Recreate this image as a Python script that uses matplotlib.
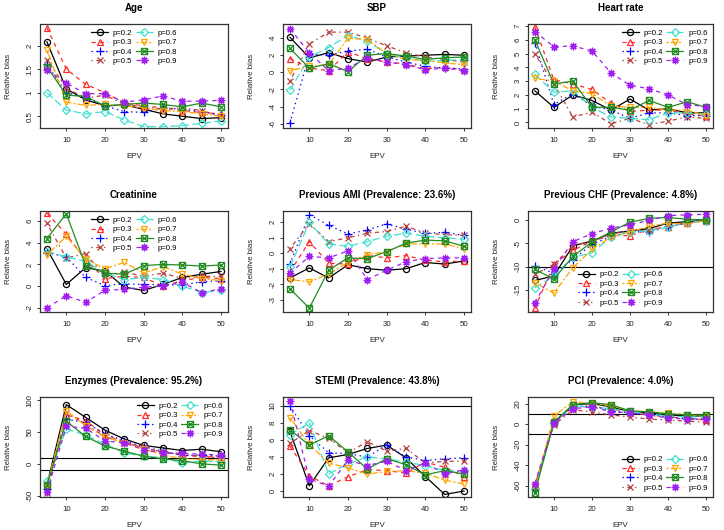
import matplotlib
matplotlib.use("Agg")
import matplotlib.pyplot as plt
from matplotlib.path import Path

plt.rcParams['font.family'] = ['Liberation Sans', 'DejaVu Sans']
plt.rcParams['axes.unicode_minus'] = False
plt.rcParams['lines.scale_dashes'] = False

epv = [5, 10, 15, 20, 25, 30, 35, 40, 45, 50]
p_labels = ['p=0.2', 'p=0.3', 'p=0.4', 'p=0.5', 'p=0.6', 'p=0.7', 'p=0.8', 'p=0.9']

# rows: p=0.2 ... p=0.9
age = [
    [2.08, 1.08, 0.85, 0.72, 0.74, 0.65, 0.55, 0.50, 0.45, 0.47],
    [2.38, 1.50, 1.18, 1.00, 0.78, 0.72, 0.68, 0.62, 0.58, 0.55],
    [1.60, 1.00, 0.90, 0.72, 0.60, 0.58, 0.68, 0.65, 0.60, 0.52],
    [1.70, 1.10, 0.88, 0.95, 0.75, 0.70, 0.65, 0.68, 0.62, 0.50],
    [1.00, 0.63, 0.55, 0.60, 0.42, 0.28, 0.28, 0.30, 0.35, 0.40],
    [1.90, 0.80, 0.73, 0.75, 0.72, 0.68, 0.62, 0.60, 0.55, 0.50],
    [1.55, 0.95, 0.92, 0.72, 0.75, 0.78, 0.75, 0.70, 0.78, 0.70],
    [1.48, 1.20, 0.98, 0.98, 0.80, 0.85, 0.93, 0.82, 0.82, 0.84],
]
sbp = [
    [4.1, 1.7, 2.3, 1.6, 1.2, 1.8, 1.9, 2.0, 2.1, 2.0],
    [1.6, 0.5, 0.2, 2.4, 1.6, 1.2, 1.0, 0.4, 0.6, 0.3],
    [-5.9, 2.1, 2.0, 2.5, 2.7, 1.8, 1.2, 0.7, 0.5, 0.4],
    [-1.0, 3.3, 4.7, 4.7, 4.0, 3.1, 2.3, 1.8, 1.5, 1.2],
    [-2.1, 1.8, 2.9, 4.3, 3.7, 2.1, 1.7, 1.3, 1.4, 1.5],
    [0.2, 0.7, 0.9, 4.0, 3.8, 2.2, 1.5, 1.4, 1.1, 0.9],
    [2.8, 0.5, 1.0, 0.1, 2.0, 2.2, 1.9, 1.5, 1.7, 1.8],
    [5.1, 2.3, 0.2, 0.5, 1.7, 1.2, 0.9, 0.3, 0.5, 0.2],
]
heart_rate = [
    [2.3, 1.1, 2.0, 1.6, 0.9, 1.7, 0.9, 1.0, 0.7, 0.7],
    [6.95, 3.1, 2.8, 2.4, 1.4, 0.8, 0.9, 0.9, 0.6, 0.5],
    [5.8, 1.3, 2.1, 1.2, 0.9, 0.3, 0.7, 0.7, 0.5, 0.5],
    [5.0, 2.8, 0.4, 0.75, -0.1, 0.3, -0.15, 0.1, 0.4, 0.3],
    [3.5, 2.2, 2.3, 1.1, 0.4, 0.3, 0.2, 0.7, 0.7, 0.6],
    [3.2, 3.0, 2.3, 2.1, 1.2, 1.1, 1.1, 0.9, 0.9, 0.5],
    [6.0, 2.8, 3.0, 1.1, 1.1, 0.9, 1.6, 1.1, 1.5, 1.1],
    [6.6, 5.5, 5.55, 5.2, 3.6, 2.7, 2.45, 2.0, 1.3, 1.15],
]
creatinine = [
    [3.45, 0.15, 1.7, 1.4, -0.1, -0.4, 0.15, 0.8, 1.1, 1.35],
    [6.75, 4.8, 2.4, 0.7, 0.9, 0.8, 0.0, 0.5, 0.8, 0.7],
    [3.1, 2.7, 0.8, 0.05, 0.2, 0.15, 0.1, 0.1, 0.4, 0.5],
    [5.8, 2.6, 3.0, 0.9, 1.3, 0.9, 1.2, 0.7, 0.9, 0.9],
    [3.2, 2.7, 2.3, 1.2, 0.6, 0.8, 0.6, 0.0, -0.6, -0.4],
    [2.9, 4.6, 2.5, 1.6, 2.2, 1.2, 1.8, 1.1, 0.7, 0.5],
    [4.4, 6.7, 1.9, 1.2, 1.1, 1.9, 2.0, 1.95, 1.85, 1.95],
    [-2.0, -0.9, -1.5, -0.4, -0.3, -0.1, 0.0, 0.35, -0.6, -0.25],
]
prev_ami = [
    [-1.6, -0.95, -1.6, -0.75, -1.0, -1.1, -1.0, -0.6, -0.7, -0.5],
    [-1.2, 0.75, -0.65, -0.7, -0.15, -0.3, -0.15, -0.45, -0.55, -0.5],
    [-0.7, 2.5, 1.8, 1.25, 1.5, 1.9, 1.55, 1.3, 1.35, 1.15],
    [0.3, 1.9, 0.75, 1.0, 1.3, 1.4, 1.75, 1.3, 1.2, 1.15],
    [-0.9, 2.0, 0.6, 0.45, 0.75, 1.1, 1.3, 1.1, 1.0, 0.9],
    [-1.7, -1.85, -1.35, -0.6, -0.1, 0.1, 0.6, 0.6, 0.6, 0.3],
    [-2.3, -3.55, -1.1, -0.3, -0.35, 0.1, 0.65, 0.85, 0.8, 0.45],
    [-1.3, -0.2, -0.3, 0.15, -1.7, -1.1, -0.55, -0.35, -0.3, -0.3],
]
prev_chf = [
    [-13.0, -12.0, -5.5, -4.5, -2.8, -2.3, -1.8, -0.6, -0.3, 0.0],
    [-19.0, -9.5, -6.5, -4.5, -3.3, -3.3, -2.0, -1.4, -0.6, -0.1],
    [-9.8, -11.5, -8.5, -5.2, -3.5, -2.5, -2.5, -1.5, -0.5, 0.0],
    [-11.7, -9.5, -5.5, -4.5, -3.0, -2.2, -2.3, -1.2, -0.6, 0.0],
    [-14.6, -12.0, -8.0, -7.0, -3.7, -2.5, -2.3, -1.5, -0.5, -0.1],
    [-13.5, -15.7, -10.2, -6.3, -3.6, -2.5, -1.3, -0.6, -0.8, 0.0],
    [-10.6, -12.7, -7.8, -4.7, -2.5, -0.4, 0.4, 0.6, 0.2, 0.1],
    [-17.8, -10.5, -4.6, -2.9, -1.7, -1.0, 0.0, 1.0, 1.2, 1.3],
]
enzymes = [
    [-33, 93, 73, 53, 39, 29, 25, 21, 23, 19],
    [-35, 77, 68, 45, 35, 25, 18, 14, 11, 11],
    [-40, 70, 65, 47, 36, 27, 20, 13, 14, 12],
    [-45, 80, 62, 43, 33, 26, 18, 15, 12, 9],
    [-27, 55, 45, 31, 17, 12, 10, 1, 5, 3],
    [-33, 83, 60, 42, 33, 23, 14, 8, 7, 6],
    [-33, 67, 43, 28, 20, 12, 8, 5, 0, -2],
    [-44, 59, 56, 36, 33, 22, 17, 17, 15, 14],
]
stemi = [
    [7.0, 0.6, 3.9, 4.3, 5.0, 5.4, 3.9, 1.7, -0.4, 0.0],
    [5.3, 1.8, 0.6, 1.7, 2.5, 2.4, 2.1, 3.4, 2.8, 1.7],
    [10.0, 6.5, 4.5, 4.4, 4.0, 5.4, 4.0, 3.6, 3.8, 3.9],
    [5.6, 7.1, 6.2, 4.5, 5.8, 4.7, 5.0, 3.3, 3.5, 3.5],
    [6.6, 8.0, 2.0, 3.2, 4.0, 3.8, 3.4, 3.0, 2.4, 2.4],
    [8.6, 5.5, 3.3, 2.7, 2.0, 2.3, 2.4, 2.1, 1.3, 0.8],
    [7.2, 5.4, 6.5, 4.6, 2.6, 3.8, 3.1, 1.9, 2.4, 2.0],
    [10.6, 1.4, 0.6, 3.6, 3.0, 3.5, 2.4, 3.3, 2.0, 2.5],
]
pci = [
    [-62, 1, 19, 20, 17, 12, 11, 9, 8, 8],
    [-60, 1, 17, 17, 15, 11, 9, 7, 6, 4],
    [-63, 3, 17, 18, 13, 11, 10, 7, 5, 5],
    [-59, -1, 14, 12, 9, 7, 5, 4, 3, 2],
    [-63, 2, 18, 17, 15, 12, 10, 8, 7, 7],
    [-62, 8, 22, 20, 18, 13, 12, 11, 9, 8],
    [-67, 2, 19, 21, 19, 13, 12, 10, 9, 9],
    [-58, 1, 15, 17, 12, 11, 9, 6, 5, 5],
]

titles = ['Age', 'SBP', 'Heart rate', 'Creatinine',
          'Previous AMI (Prevalence: 23.6%)', 'Previous CHF (Prevalence: 4.8%)',
          'Enzymes (Prevalence: 95.2%)', 'STEMI (Prevalence: 43.8%)',
          'PCI (Prevalence: 4.0%)']
panel_data = [age, sbp, heart_rate, creatinine, prev_ami, prev_chf, enzymes, stemi, pci]
yticks_list = [[0.5, 1.0, 1.5, 2.0], [-6, -4, -2, 0, 2, 4], [0, 1, 2, 3, 4, 5, 6, 7],
               [-2, 0, 2, 4, 6], [-3, -2, -1, 0, 1, 2], [-15, -10, -5, 0],
               [-50, 0, 50, 100], [0, 2, 4, 6, 8, 10], [-60, -40, -20, 0, 20]]
ylims = [(0.25, 2.46), (-6.5, 5.65), (-0.4, 7.15), (-2.4, 6.95), (-3.8, 2.73),
         (-19.8, 2.0), (-52, 105), (-0.7, 11.05), (-71, 26.5)]
legend_locs = ['upper center', None, 'upper right', 'upper center', None,
               'lower center', 'upper right', None, 'lower right']
ref_lines = [-10, 10]

colors = ['#000000', '#FF2A2A', '#0000FF', '#B5403F', '#40E0D0', '#FFA500', '#228B22', '#A020F0']
linestyles = ['-', (0, (3, 3)), (0, (1, 2.5)), (0, (1, 2.5, 3, 2.5)), (0, (5.5, 2.5)),
              (0, (1.5, 1.5, 4.5, 1.5)), '-', (0, (3, 3))]
sq_x = Path([(-1, -1), (1, -1), (1, 1), (-1, 1), (-1, -1), (-1, -1), (1, 1), (-1, 1), (1, -1)],
            [Path.MOVETO, Path.LINETO, Path.LINETO, Path.LINETO, Path.CLOSEPOLY,
             Path.MOVETO, Path.LINETO, Path.MOVETO, Path.LINETO])
markers = ['o', '^', '+', 'x', 'D', 'v', sq_x, (8, 2, 0)]
msizes = [4.4, 4.6, 5.4, 4.5, 3.7, 4.6, 4.4, 5.4]

fig = plt.figure(figsize=(7.24, 5.30), dpi=100)
W, H = 724.0, 530.0
col_lr = [(40, 228), (283, 471), (528, 713)]
row_tb = [(24, 128), (211, 312), (397, 497)]

for i in range(9):
    r, c = divmod(i, 3)
    l, rr = col_lr[c]
    t, b = row_tb[r]
    ax = fig.add_axes([l / W, 1 - b / H, (rr - l) / W, (b - t) / H])
    data = panel_data[i]
    for k in range(8):
        ax.plot(epv, data[k], color=colors[k], linestyle=linestyles[k], linewidth=0.9,
                marker=markers[k], markersize=msizes[k], markerfacecolor='none',
                markeredgewidth=0.9, label=p_labels[k])
    for h in ref_lines:
        ax.axhline(h, color='black', linewidth=0.8, zorder=1)
    ax.set_xlim(3.2, 51.8)
    ax.set_ylim(*ylims[i])
    ax.set_xticks([10, 20, 30, 40, 50])
    ax.set_yticks(yticks_list[i])
    ax.set_yticklabels([('%g' % v) for v in yticks_list[i]], rotation=90, va='center')
    ax.tick_params(axis='both', labelsize=5.7, length=2.5, width=0.7, colors='#333333',
                   labelcolor='#222222')
    ax.tick_params(axis='x', pad=4)
    ax.tick_params(axis='y', pad=2)
    for s in ax.spines.values():
        s.set_color('#333333')
        s.set_linewidth(0.9)
    ax.set_title(titles[i], fontsize=7, fontweight='bold', pad=9.5)
    ax.set_xlabel('EPV', fontsize=5.7, labelpad=6.5, color='#222222')
    ax.set_ylabel('Relative bias', fontsize=5.7, color='#222222')
    ax.yaxis.set_label_coords(-0.15, 0.5)
    if legend_locs[i]:
        ax.legend(loc=legend_locs[i], ncol=2, frameon=False, fontsize=5.6,
                  handlelength=2.2, handletextpad=0.6, columnspacing=0.4,
                  labelspacing=0.25, borderaxespad=0.5, borderpad=0.2)

fig.savefig('out.png', dpi=100)
